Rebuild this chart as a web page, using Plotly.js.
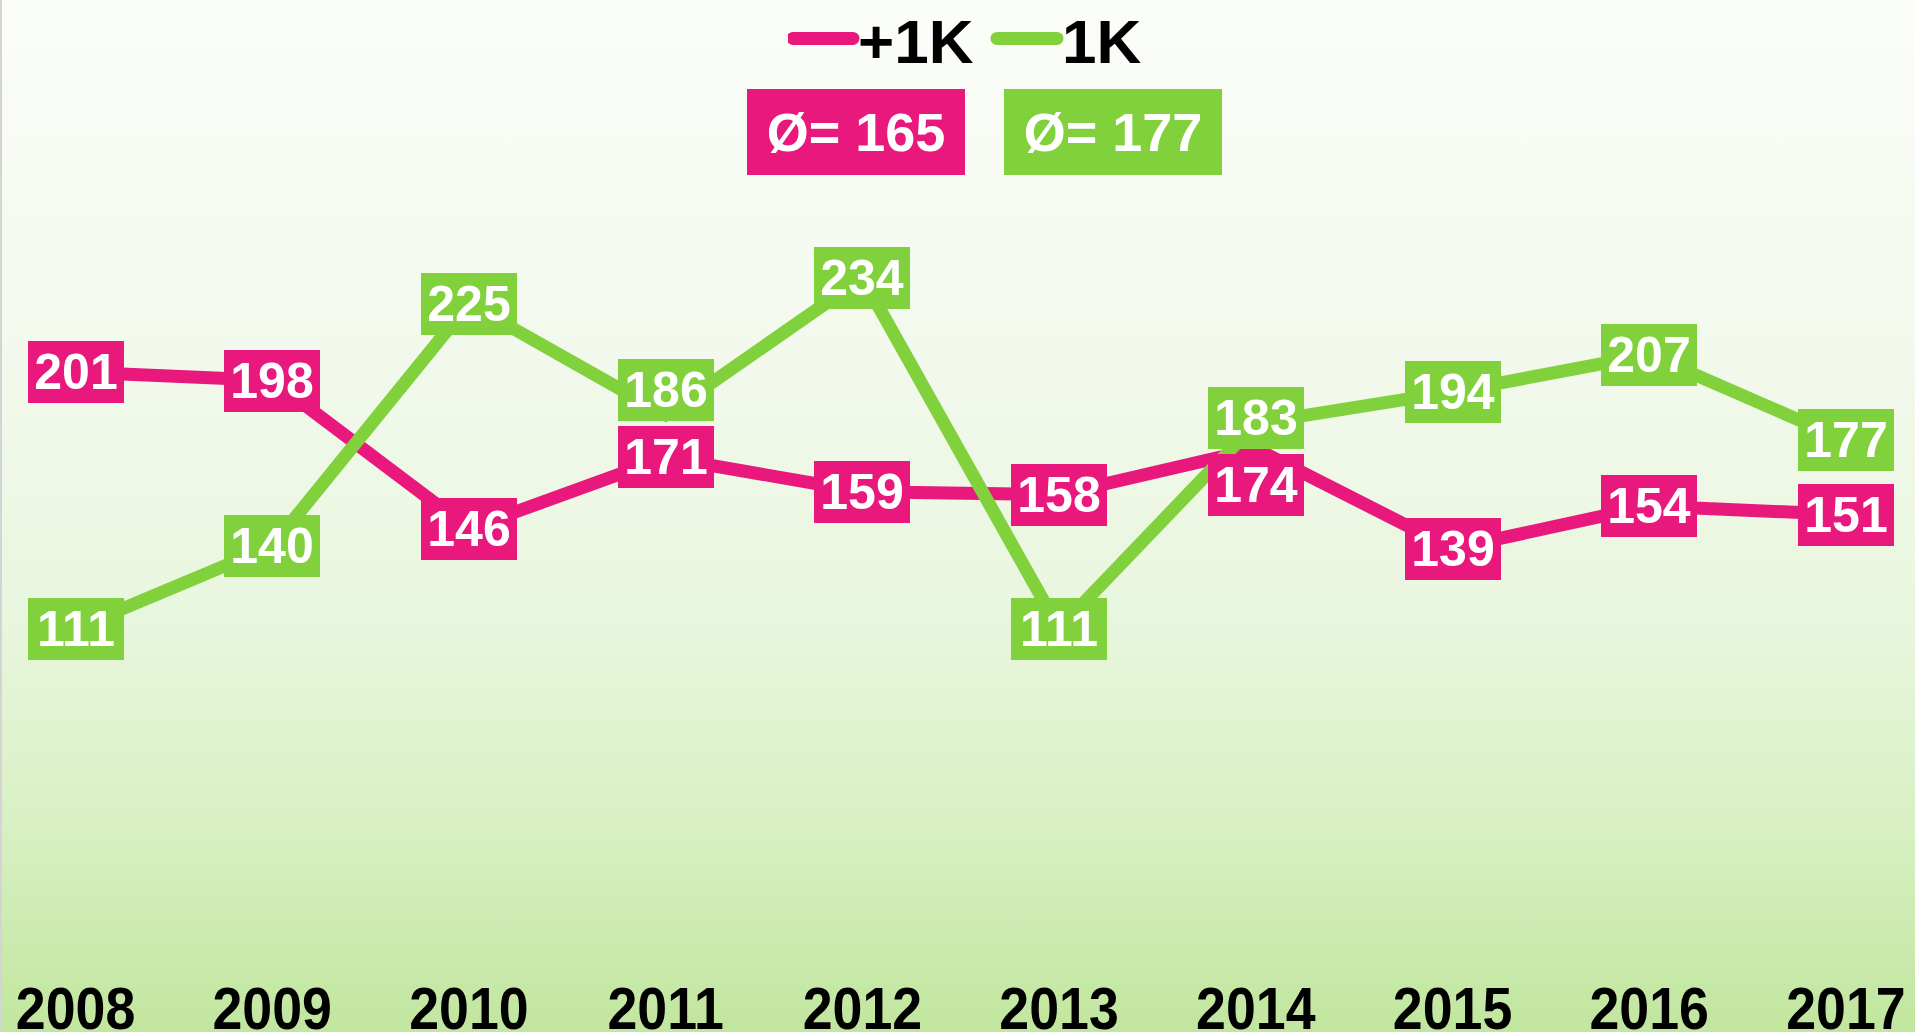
<!DOCTYPE html>
<html>
<head>
<meta charset="utf-8">
<script src="https://cdn.plot.ly/plotly-3.0.1.min.js"></script>
<style>
  html, body { margin: 0; padding: 0; }
  #wrap {
    position: relative; width: 1915px; height: 1032px; overflow: hidden;
    background: linear-gradient(to bottom, #fbfdf9 0%, #f2f9ec 35%, #e9f6de 60%, #d8f0c3 80%, #c1e69e 100%);
    box-shadow: inset 2px 0 0 #d4d4d4;
  }
  #chart { width: 1915px; height: 1032px; }
</style>
</head>
<body>
<div id="wrap"><div id="chart"></div></div>
<script>
// ---- data ----
const years = ['2008', '2009', '2010', '2011', '2012', '2013', '2014', '2015', '2016', '2017'];
const seriesNames = ['+1K', '1K'];
const plus1K = [201, 198, 146, 171, 159, 158, 174, 139, 154, 151];
const oneK = [111, 140, 225, 186, 234, 111, 183, 194, 207, 177];
const avgPrefix = 'Ø= ';

// ---- style ----
const PINK = '#E8187C';
const GREEN = '#80D13C';
const FONT = 'Liberation Sans, Arial, Helvetica, sans-serif';
// label nudges (pixels) used to keep overlapping labels apart
const nudge = { '1K': { '2011': 25, '2014': 5 }, '+1K': { '2014': -36 } };

const series = [
  { name: seriesNames[0], values: plus1K, color: PINK },
  { name: seriesNames[1], values: oneK, color: GREEN }
];

const traces = series.map(s => ({
  type: 'scatter', mode: 'lines', name: s.name,
  x: years, y: s.values,
  line: { color: s.color, width: 13 },
  hoverinfo: 'skip'
}));

const annotations = [];
series.forEach(s => {
  s.values.forEach((v, i) => {
    annotations.push({
      x: i, y: v, xref: 'x', yref: 'y',   // category index of years[i]
      text: String(v), showarrow: false,
      bgcolor: s.color, borderpad: 0, borderwidth: 0,
      width: 96, height: 62,
      yshift: (nudge[s.name] && nudge[s.name][years[i]]) || 0,
      font: { family: FONT, size: 50, color: '#ffffff', weight: 'bold' }
    });
  });
});

const mean = arr => Math.round(arr.reduce((a, b) => a + b, 0) / arr.length);
const avgX = [0.447, 0.581];
series.forEach((s, k) => {
  annotations.push({
    x: avgX[k], y: 0.8635, xref: 'paper', yref: 'paper',
    xanchor: 'center', yanchor: 'middle',
    text: avgPrefix + mean(s.values), showarrow: false,
    bgcolor: s.color, borderpad: 0, borderwidth: 0,
    width: 218, height: 86,
    font: { family: FONT, size: 54, color: '#ffffff', weight: 'bold' }
  });
});

const layout = {
  width: 1915, height: 1032,
  margin: { l: 0, r: 0, t: 0, b: 66, autoexpand: false },
  paper_bgcolor: 'rgba(0,0,0,0)',
  plot_bgcolor: 'rgba(0,0,0,0)',
  showlegend: true,
  legend: {
    orientation: 'h', x: 0.518, xanchor: 'center', y: 0.960, yanchor: 'middle',
    itemwidth: 60, entrywidth: 129, bgcolor: 'rgba(0,0,0,0)',
    font: { family: FONT, size: 62, color: '#000000', weight: 'bold' },
    traceorder: 'normal'
  },
  xaxis: {
    type: 'category', range: [-0.384, 9.351], automargin: false,
    showgrid: false, zeroline: false, showline: false, ticks: '',
    ticklabelstandoff: 3,
    tickfont: { family: FONT, size: 59, color: '#000000', weight: 'bold' },
    fixedrange: true
  },
  yaxis: {
    range: [-7.4, 331.5], visible: false, automargin: false,
    showgrid: false, zeroline: false, fixedrange: true
  },
  annotations: annotations
};

Plotly.newPlot('chart', traces, layout, { displayModeBar: false, staticPlot: true }).then(() => {
  document.querySelectorAll('#chart .legend .js-line').forEach(el => {
    el.style.strokeWidth = '13px';
    el.style.strokeLinecap = 'round';
  });
  // the reference's year labels use a condensed bold face
  document.querySelectorAll('#chart .xtick text').forEach(el => {
    const w = el.getComputedTextLength();
    el.setAttribute('textLength', (w * 0.91).toFixed(1));
    el.setAttribute('lengthAdjust', 'spacingAndGlyphs');
  });
});
</script>
</body>
</html>
